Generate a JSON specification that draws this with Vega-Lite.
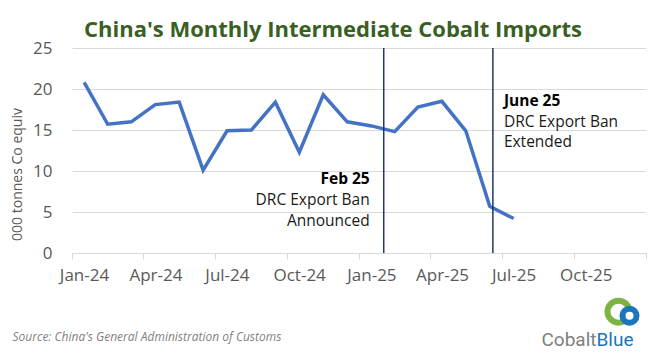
{
  "$schema": "https://vega.github.io/schema/vega-lite/v6.json",
  "width": 574,
  "height": 205,
  "autosize": {"type": "none"},
  "padding": {"left": 72, "top": 48, "right": 21, "bottom": 102},
  "background": "white",
  "config": {"view": {"stroke": null}, "font": "Open Sans"},
  "title": {
    "text": "China's Monthly Intermediate Cobalt Imports",
    "font": "Open Sans",
    "fontSize": 22,
    "fontWeight": "bold",
    "color": "#3A5F22",
    "anchor": "middle",
    "dx": -26,
    "offset": -3
  },
  "datasets": {
    "imports": [
      {"month": "2024-01-01", "kt": 20.8},
      {"month": "2024-02-01", "kt": 15.7},
      {"month": "2024-03-01", "kt": 16.0},
      {"month": "2024-04-01", "kt": 18.1},
      {"month": "2024-05-01", "kt": 18.4},
      {"month": "2024-06-01", "kt": 10.1},
      {"month": "2024-07-01", "kt": 14.9},
      {"month": "2024-08-01", "kt": 15.0},
      {"month": "2024-09-01", "kt": 18.4},
      {"month": "2024-10-01", "kt": 12.3},
      {"month": "2024-11-01", "kt": 19.3},
      {"month": "2024-12-01", "kt": 16.0},
      {"month": "2025-01-01", "kt": 15.5},
      {"month": "2025-02-01", "kt": 14.8},
      {"month": "2025-03-01", "kt": 17.8},
      {"month": "2025-04-01", "kt": 18.5},
      {"month": "2025-05-01", "kt": 14.9},
      {"month": "2025-06-01", "kt": 5.7},
      {"month": "2025-07-01", "kt": 4.2}
    ],
    "events": [
      {"event": "Feb 25", "date": "2025-02-01", "level": 9.9, "detail": ["DRC Export Ban", "Announced"]},
      {"event": "June 25", "date": "2025-06-20", "level": 19.45, "detail": ["DRC Export Ban", "Extended"]}
    ],
    "logo": [
      {"item": "ring", "date": "2025-11-27", "v": -7.16},
      {"item": "disc", "date": "2025-12-11", "v": -7.65},
      {"item": "Cobalt", "date": "2025-10-30", "v": -11.4},
      {"item": "Blue", "date": "2025-10-30", "v": -11.4}
    ]
  },
  "layer": [
    {
      "data": {"name": "imports"},
      "mark": {"type": "line", "color": "#4472C4", "strokeWidth": 3.5, "strokeJoin": "miter"},
      "encoding": {
        "x": {
          "field": "month",
          "type": "temporal",
          "timeUnit": "yearmonth",
          "bandPosition": 0.5,
          "scale": {"domain": [{"year": 2024, "month": 1, "date": 1}, {"year": 2026, "month": 1, "date": 1}]},
          "axis": {
            "values": [
              {"year": 2024, "month": 1, "date": 1},
              {"year": 2024, "month": 4, "date": 1},
              {"year": 2024, "month": 7, "date": 1},
              {"year": 2024, "month": 10, "date": 1},
              {"year": 2025, "month": 1, "date": 1},
              {"year": 2025, "month": 4, "date": 1},
              {"year": 2025, "month": 7, "date": 1},
              {"year": 2025, "month": 10, "date": 1},
              {"year": 2026, "month": 1, "date": 1}
            ],
            "labelExpr": "year(datum.value) > 2025 ? '' : timeFormat(datum.value, '%b-%y')",
            "labelOffset": 12,
            "labelFlush": false,
            "labelOverlap": false,
            "labelAlign": "center",
            "labelColor": "#595959",
            "labelFontSize": 17,
            "labelPadding": 8,
            "grid": false,
            "domainColor": "#D9D9D9",
            "tickColor": "#D9D9D9",
            "tickSize": 6,
            "title": "Source: China's General Administration of Customs",
            "titleFont": "Open Sans",
            "titleFontStyle": "italic",
            "titleFontWeight": "normal",
            "titleFontSize": 12,
            "titleColor": "#7F7F7F",
            "titleAnchor": "start",
            "titleAlign": "left",
            "titleBaseline": "middle",
            "titleX": -60,
            "titleY": 83
          }
        },
        "y": {
          "field": "kt",
          "type": "quantitative",
          "scale": {"domain": [0, 25], "nice": false},
          "axis": {
            "values": [0, 5, 10, 15, 20, 25],
            "grid": true,
            "gridColor": "#D9D9D9",
            "domain": false,
            "ticks": false,
            "labelColor": "#595959",
            "labelFontSize": 17,
            "labelPadding": 20,
            "title": "000 tonnes Co equiv",
            "titleFontSize": 14,
            "titleFontWeight": "normal",
            "titleColor": "#595959",
            "titleAngle": -90,
            "titleAlign": "center",
            "titleBaseline": "middle",
            "titleX": -55,
            "titleY": 126
          }
        }
      }
    },
    {
      "data": {"name": "events"},
      "mark": {"type": "rule", "color": "#203864", "strokeWidth": 1.5},
      "encoding": {
        "x": {"field": "date", "type": "temporal"}
      }
    },
    {
      "data": {"name": "events"},
      "transform": [{"filter": "datum.event == 'Feb 25'"}],
      "mark": {"type": "text", "align": "right", "baseline": "top", "fontSize": 15.5, "fontWeight": "bold", "color": "#000000", "dx": -14},
      "encoding": {
        "x": {"field": "date", "type": "temporal"},
        "y": {"field": "level", "type": "quantitative"},
        "text": {"field": "event"}
      }
    },
    {
      "data": {"name": "events"},
      "transform": [{"filter": "datum.event == 'Feb 25'"}],
      "mark": {"type": "text", "align": "right", "baseline": "top", "fontSize": 15.5, "color": "#1A1A1A", "dx": -14, "dy": 21, "lineHeight": 21},
      "encoding": {
        "x": {"field": "date", "type": "temporal"},
        "y": {"field": "level", "type": "quantitative"},
        "text": {"field": "detail"}
      }
    },
    {
      "data": {"name": "events"},
      "transform": [{"filter": "datum.event == 'June 25'"}],
      "mark": {"type": "text", "align": "left", "baseline": "top", "fontSize": 15.5, "fontWeight": "bold", "color": "#000000", "dx": 11},
      "encoding": {
        "x": {"field": "date", "type": "temporal"},
        "y": {"field": "level", "type": "quantitative"},
        "text": {"field": "event"}
      }
    },
    {
      "data": {"name": "events"},
      "transform": [{"filter": "datum.event == 'June 25'"}],
      "mark": {"type": "text", "align": "left", "baseline": "top", "fontSize": 15.5, "color": "#1A1A1A", "dx": 11, "dy": 21, "lineHeight": 20.5},
      "encoding": {
        "x": {"field": "date", "type": "temporal"},
        "y": {"field": "level", "type": "quantitative"},
        "text": {"field": "detail"}
      }
    },
    {
      "data": {"name": "logo"},
      "transform": [{"filter": "datum.item == 'ring'"}],
      "mark": {"type": "point", "shape": "circle", "filled": false, "stroke": "#7CB342", "strokeWidth": 6, "size": 484, "opacity": 1},
      "encoding": {
        "x": {"field": "date", "type": "temporal"},
        "y": {"field": "v", "type": "quantitative"}
      }
    },
    {
      "data": {"name": "logo"},
      "transform": [{"filter": "datum.item == 'disc'"}],
      "mark": {"type": "point", "shape": "circle", "filled": true, "color": "#1B75BC", "size": 400, "opacity": 1},
      "encoding": {
        "x": {"field": "date", "type": "temporal"},
        "y": {"field": "v", "type": "quantitative"}
      }
    },
    {
      "data": {"name": "logo"},
      "transform": [{"filter": "datum.item == 'disc'"}],
      "mark": {"type": "point", "shape": "circle", "filled": true, "color": "#FFFFFF", "size": 64, "opacity": 1},
      "encoding": {
        "x": {"field": "date", "type": "temporal"},
        "y": {"field": "v", "type": "quantitative"}
      }
    },
    {
      "data": {"name": "logo"},
      "transform": [{"filter": "datum.item == 'Cobalt'"}],
      "mark": {"type": "text", "align": "right", "baseline": "alphabetic", "font": "Roboto", "fontSize": 19, "color": "#808080"},
      "encoding": {
        "x": {"field": "date", "type": "temporal"},
        "y": {"field": "v", "type": "quantitative"},
        "text": {"field": "item"}
      }
    },
    {
      "data": {"name": "logo"},
      "transform": [{"filter": "datum.item == 'Blue'"}],
      "mark": {"type": "text", "align": "left", "baseline": "alphabetic", "font": "Roboto", "fontSize": 19, "color": "#1B75BC"},
      "encoding": {
        "x": {"field": "date", "type": "temporal"},
        "y": {"field": "v", "type": "quantitative"},
        "text": {"field": "item"}
      }
    }
  ]
}
